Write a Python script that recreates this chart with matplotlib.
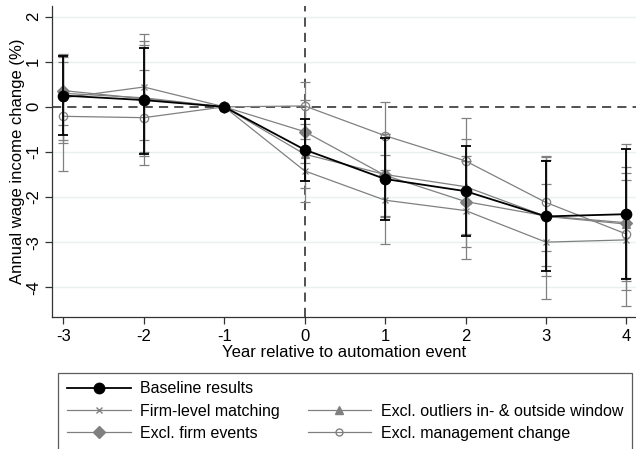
import matplotlib.pyplot as plt
import numpy as np
from matplotlib.lines import Line2D

plt.rcParams['font.family'] = ['Liberation Sans', 'DejaVu Sans']

years = [-3, -2, -1, 0, 1, 2, 3, 4]

# point estimates
baseline = [0.25, 0.15, 0.0, -0.95, -1.60, -1.87, -2.43, -2.38]
firm_match = [0.20, 0.44, 0.0, -1.42, -2.07, -2.30, -3.00, -2.95]
excl_outliers = [0.30, 0.20, 0.0, -1.05, -1.50, -1.77, -2.43, -2.60]
excl_events = [0.36, 0.18, 0.0, -0.55, -1.52, -2.10, -2.42, -2.57]
excl_mgmt = [-0.21, -0.24, 0.0, 0.02, -0.64, -1.20, -2.12, -2.82]

# confidence intervals (lower, upper)
baseline_lo = [-0.63, -1.04, 0.0, -1.64, -2.51, -2.86, -3.65, -3.81]
baseline_hi = [1.12, 1.31, 0.0, -0.26, -0.70, -0.86, -1.19, -0.94]
firm_lo = [-0.74, -0.74, 0.0, -2.12, -3.04, -3.38, -4.25, -4.07]
firm_hi = [1.15, 1.62, 0.0, -0.72, -1.07, -1.20, -1.70, -1.62]
outl_lo = [-0.80, -1.00, 0.0, -1.79, -2.43, -2.82, -3.76, -3.86]
outl_hi = [1.17, 1.38, 0.0, -0.37, -0.60, -0.72, -1.12, -1.33]
events_lo = [-0.40, -1.08, 0.0, -1.25, -2.45, -3.10, -3.54, -3.80]
events_hi = [1.10, 1.45, 0.0, 0.15, -0.60, -1.10, -1.18, -1.47]
mgmt_lo = [-1.42, -1.29, 0.0, -0.52, -1.39, -2.15, -3.20, -4.41]
mgmt_hi = [1.00, 0.82, 0.0, 0.56, 0.11, -0.25, -1.08, -0.83]

gray = '#808080'

fig = plt.figure(figsize=(6.36, 4.49), dpi=100)
ax = fig.add_axes([0.082, 0.293, 0.918, 0.694])

for y in [-4, -3, -2, -1, 1, 2]:
    ax.axhline(y, color='#e8f0f1', lw=1.0, zorder=0)
ax.axhline(0, color='#222222', lw=1.1, ls=(0, (6, 4)), zorder=1)
ax.axvline(0, color='#222222', lw=1.1, ls=(0, (6, 4)), zorder=1)


def draw(est, lo, hi, color, marker, ms, mfc, lw, z):
    est = np.array(est)
    err = [est - np.array(lo), np.array(hi) - est]
    ax.errorbar(years, est, yerr=err, fmt='none', ecolor=color,
                elinewidth=lw, capsize=3.6, capthick=lw, zorder=z)
    ax.plot(years, est, color=color, lw=lw, marker=marker, ms=ms,
            mfc=mfc, mec=color, mew=0.9, zorder=z + 0.5)


draw(firm_match, firm_lo, firm_hi, gray, 'x', 4, gray, 0.9, 2)
draw(excl_outliers, outl_lo, outl_hi, gray, '^', 6, gray, 0.9, 2)
draw(excl_events, events_lo, events_hi, gray, 'D', 6, gray, 0.9, 2)
draw(excl_mgmt, mgmt_lo, mgmt_hi, gray, 'o', 6, 'none', 0.9, 2)
draw(baseline, baseline_lo, baseline_hi, 'black', 'o', 7.5, 'black', 1.3, 3)

ax.set_xlim(-3.14, 4.12)
ax.set_ylim(-4.67, 2.24)
ax.set_xticks(years)
ax.set_xticklabels([str(y) for y in years])
ax.set_yticks([-4, -3, -2, -1, 0, 1, 2])
ax.set_yticklabels(['-4', '-3', '-2', '-1', '0', '1', '2'], rotation=90, va='center')
ax.tick_params(labelsize=12, length=5, width=0.9, color='#333333', pad=3)
for s in ['top', 'right']:
    ax.spines[s].set_visible(False)
for s in ['left', 'bottom']:
    ax.spines[s].set_color('#333333')
    ax.spines[s].set_linewidth(0.9)

ax.set_xlabel('Year relative to automation event', fontsize=12, labelpad=1)
ax.set_ylabel('Annual wage income change (%)', fontsize=12, labelpad=1)

handles = [
    Line2D([], [], color='black', lw=1.3, marker='o', ms=7.5, mfc='black'),
    Line2D([], [], color=gray, lw=0.9, marker='x', ms=4),
    Line2D([], [], color=gray, lw=0.9, marker='D', ms=6, mfc=gray),
    Line2D([], [], color='none'),
    Line2D([], [], color=gray, lw=0.9, marker='^', ms=6, mfc=gray),
    Line2D([], [], color=gray, lw=0.9, marker='o', ms=5, mfc='none'),
]
labels = ['Baseline results', 'Firm-level matching', 'Excl. firm events', '',
          'Excl. outliers in- & outside window', 'Excl. management change']
leg = fig.legend(handles, labels, ncol=2, loc='upper left',
                 bbox_to_anchor=(0.091, -0.05, 0.903, 0.22), mode='expand',
                 fontsize=11.5, handlelength=4.0, handletextpad=0.6,
                 labelspacing=0.45, borderaxespad=0, frameon=True,
                 fancybox=False, edgecolor='#333333', columnspacing=0.5,
                 borderpad=0.55)
leg.get_frame().set_linewidth(0.9)

fig.savefig('out.png', dpi=100)
